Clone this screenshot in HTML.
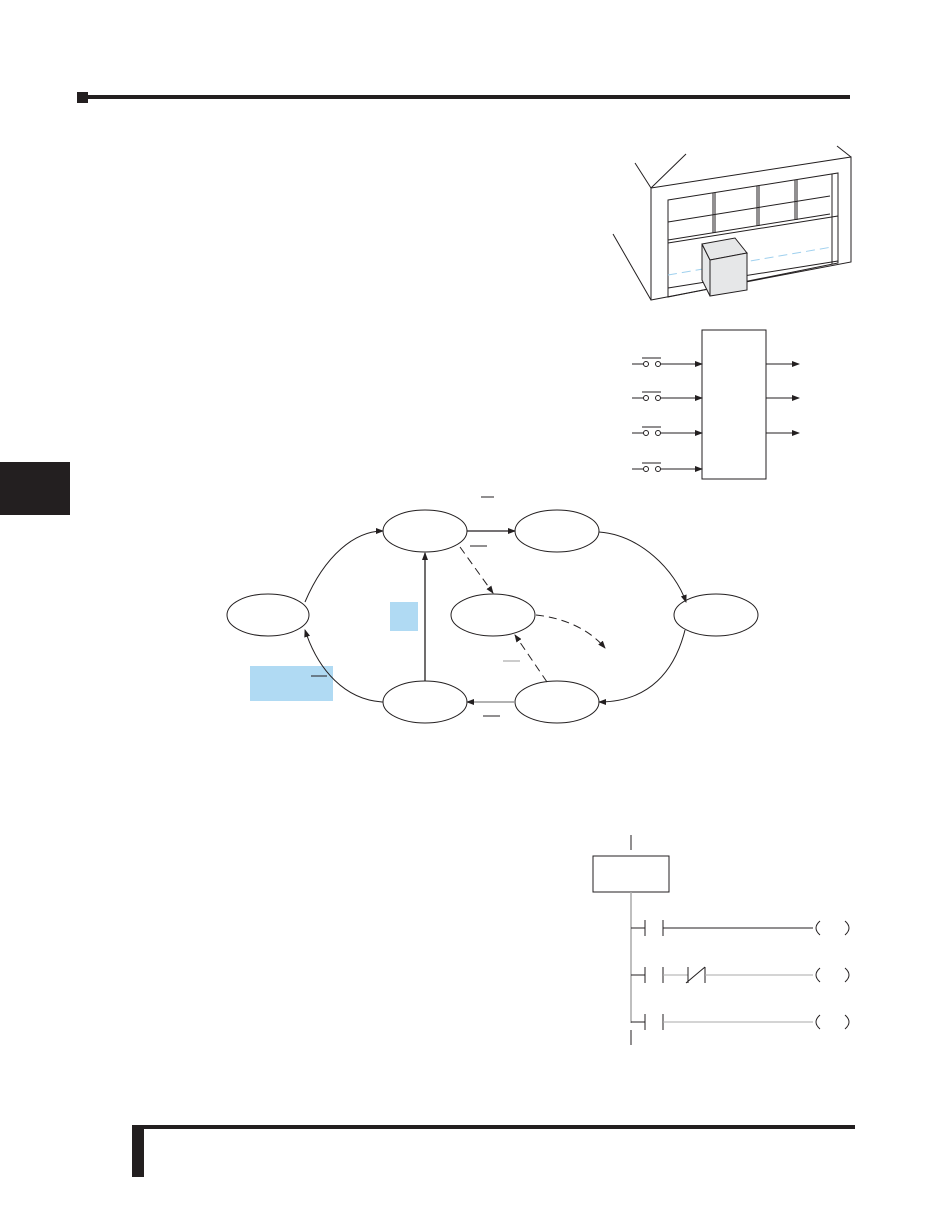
<!DOCTYPE html>
<html><head><style>html,body{margin:0;padding:0;background:#fff}svg{display:block}</style></head>
<body>
<svg width="950" height="1229" viewBox="0 0 950 1229" xmlns="http://www.w3.org/2000/svg">
<defs>
<marker id="a" markerWidth="8" markerHeight="6" refX="7" refY="3" orient="auto" markerUnits="userSpaceOnUse"><path d="M0,0 L8,3 L0,6 z" fill="#231f20"/></marker>
<g id="in" stroke="#231f20" stroke-width="1" fill="none">
<line x1="632" y1="364" x2="643.5" y2="364"/><circle cx="646" cy="364" r="2.5"/><circle cx="658" cy="364" r="2.5"/>
<line x1="660.5" y1="364" x2="702" y2="364" marker-end="url(#a)"/><line x1="642" y1="358" x2="661" y2="358"/>
</g>
<g id="r" stroke="#231f20" stroke-width="1" fill="none">
<line x1="631" y1="0" x2="645" y2="0"/><line x1="645" y1="-8" x2="645" y2="8"/><line x1="663" y1="-8" x2="663" y2="8"/>
<path d="M820,-7 Q812,0 820,7"/><path d="M845,-7 Q853,0 845,7"/>
</g>
</defs>
<!-- header -->
<rect x="77" y="92" width="11" height="11" fill="#231f20"/>
<rect x="88" y="95" width="762" height="4" fill="#231f20"/>
<rect x="0" y="462" width="70" height="53" fill="#231f20"/>
<!-- footer -->
<rect x="132" y="1125" width="723" height="4" fill="#231f20"/>
<rect x="132" y="1125" width="12" height="52" fill="#231f20"/>

<!-- garage -->
<g stroke="#231f20" stroke-width="1" fill="none">
<line x1="651" y1="188" x2="635" y2="163"/>
<line x1="651" y1="188" x2="686" y2="154"/>
<line x1="837" y1="146" x2="851" y2="157"/>
<line x1="613" y1="234" x2="651" y2="300"/>
<polygon points="651,188 851,157 851,262 651,300" fill="#fff"/>
<polygon points="668,200 838,173 838,263 668,297"/>
<line x1="832" y1="174" x2="832" y2="264"/>
<line x1="668" y1="222" x2="830" y2="196"/>
<line x1="668" y1="240" x2="830" y2="214"/>
<line x1="668" y1="243" x2="838" y2="216"/>
<line x1="668" y1="288" x2="838" y2="261"/>
<line x1="713" y1="193" x2="713" y2="233"/>
<line x1="715" y1="193" x2="715" y2="233"/>
<line x1="757" y1="186" x2="757" y2="226"/>
<line x1="759" y1="186" x2="759" y2="226"/>
<line x1="795" y1="180" x2="795" y2="220"/>
<line x1="797" y1="180" x2="797" y2="220"/>
</g>
<line x1="668" y1="275" x2="832" y2="247" stroke="#9fd0ee" stroke-width="1" stroke-dasharray="9,5"/>
<g stroke="#231f20" stroke-width="1" fill="#e6e7e8">
<polygon points="702,244 710,260 710,296 702,280"/>
<polygon points="702,244 735,238 747,253 710,260"/>
<polygon points="710,260 747,253 747,290 710,296"/>
</g>

<!-- block diagram -->
<g stroke="#231f20" stroke-width="1" fill="none">
<rect x="702" y="330" width="64" height="149"/>
<use href="#in"/><use href="#in" y="34"/><use href="#in" y="69"/><use href="#in" y="105"/>
<line x1="766" y1="364" x2="799" y2="364" marker-end="url(#a)"/>
<line x1="766" y1="398" x2="799" y2="398" marker-end="url(#a)"/>
<line x1="766" y1="433" x2="799" y2="433" marker-end="url(#a)"/>
</g>

<!-- state diagram -->
<rect x="390" y="602" width="28" height="29" fill="#b0daf3"/>
<rect x="250" y="666" width="83" height="35" fill="#b0daf3"/>
<g stroke="#231f20" stroke-width="1" fill="none">
<ellipse cx="425" cy="531" rx="42" ry="21"/>
<ellipse cx="557" cy="531" rx="42" ry="21"/>
<ellipse cx="268" cy="615" rx="41" ry="21"/>
<ellipse cx="493" cy="615" rx="42" ry="21"/>
<ellipse cx="716" cy="615" rx="42" ry="21"/>
<ellipse cx="425" cy="702" rx="42" ry="21"/>
<ellipse cx="557" cy="702" rx="42" ry="21"/>
<line x1="467" y1="531" x2="515" y2="531" stroke-width="1.3" marker-end="url(#a)"/>
<path d="M305,602 C325,555 355,531 383,531" marker-end="url(#a)"/>
<path d="M599,532 C640,535 675,570 686,602" marker-end="url(#a)"/>
<path d="M685,630 C675,670 650,702 599,702" marker-end="url(#a)"/>
<line x1="515" y1="702" x2="467" y2="702" stroke="#999" stroke-width="1.5" marker-end="url(#a)"/>
<path d="M383,702 C345,700 318,670 305,630" marker-end="url(#a)"/>
<line x1="425" y1="681" x2="425" y2="553" stroke-width="1.3" marker-end="url(#a)"/>
<line x1="460" y1="547" x2="493" y2="593" stroke-dasharray="8,5" marker-end="url(#a)"/>
<path d="M536,615 C565,618 590,630 605,648" stroke-dasharray="8,5" marker-end="url(#a)"/>
<line x1="547" y1="682" x2="515" y2="635" stroke-dasharray="8,5" marker-end="url(#a)"/>
<line x1="481" y1="497" x2="494" y2="497"/>
<line x1="470" y1="546" x2="487" y2="546"/>
<line x1="311" y1="676" x2="327" y2="676"/>
<line x1="503" y1="661" x2="520" y2="661" stroke="#999"/>
<line x1="483" y1="716" x2="500" y2="716"/>
</g>

<!-- ladder -->
<g stroke="#231f20" stroke-width="1" fill="none">
<line x1="631" y1="835" x2="631" y2="850"/>
<rect x="593" y="856" width="76" height="36"/>
<line x1="631" y1="892" x2="631" y2="1023" stroke="#aaa" stroke-width="1.5"/>
<line x1="631" y1="1030" x2="631" y2="1045"/>
<use href="#r" y="928"/><use href="#r" y="975"/><use href="#r" y="1022"/>
<line x1="663" y1="928" x2="813" y2="928"/>
<line x1="663" y1="975" x2="688" y2="975" stroke="#aaa"/>
<line x1="688" y1="967" x2="688" y2="983"/><line x1="705" y1="967" x2="705" y2="983"/><line x1="686" y1="983" x2="705" y2="967"/>
<line x1="705" y1="975" x2="813" y2="975" stroke="#aaa"/>
<line x1="663" y1="1022" x2="813" y2="1022" stroke="#aaa"/>
</g>
</svg>
</body></html>
